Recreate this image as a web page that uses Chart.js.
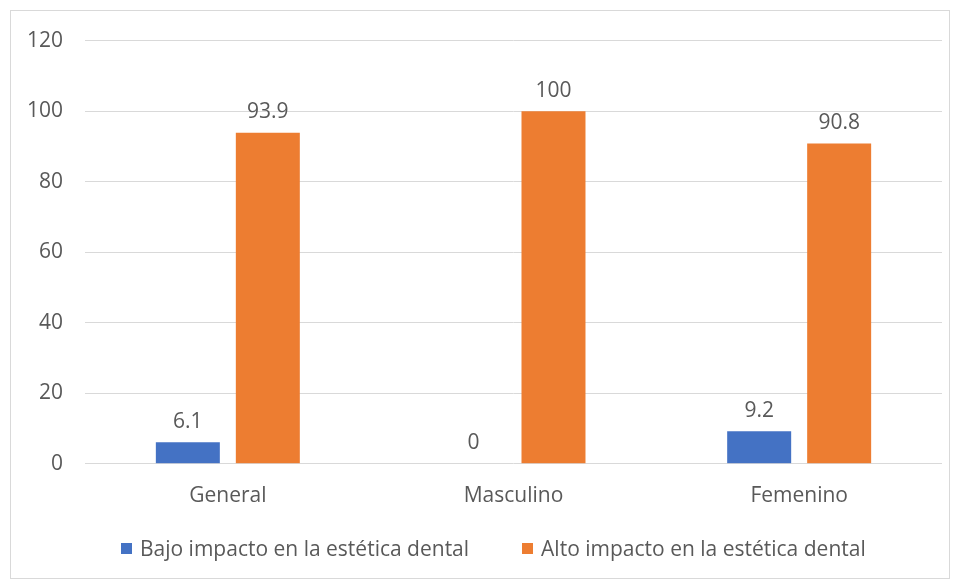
<!DOCTYPE html>
<html>
<head>
<meta charset="utf-8">
<script src="https://cdn.jsdelivr.net/npm/chart.js@4"></script>
<style>
  body { margin: 0; background: #fff; }
  #box {
    position: absolute; left: 10px; top: 10px;
    width: 938px; height: 567px;
    border: 1px solid #d9d9d9; background: #fff;
  }
  #wrap { position: absolute; left: 0; top: -5px; width: 938px; height: 536px; }
  #legend {
    position: absolute; left: 110px; top: 527px;
    display: flex; align-items: center;
    font: 21px 'Open Sans', sans-serif; line-height: 21px; color: #595959;
    white-space: nowrap;
  }
  #legend .item { display: flex; align-items: center; margin-right: 53px; }
  #legend .sq { width: 11px; height: 11px; margin-right: 8px; }
</style>
</head>
<body>
<div id="box">
  <div id="wrap"><canvas id="chart"></canvas></div>
  <div id="legend"></div>
</div>
<script>
const categories = ["General", "Masculino", "Femenino"];
const seriesNames = ["Bajo impacto en la estética dental", "Alto impacto en la estética dental"];
const bajo = [6.1, 0, 9.2];
const alto = [93.9, 100, 90.8];
const yTicks = [0, 20, 40, 60, 80, 100, 120];
const colors = ["#4472C4", "#ED7D31"];

const FONT = "'Open Sans', sans-serif";
const GREY = "#595959";
const SIZE = 21;

// etiquetas de datos encima de cada barra
const barLabels = {
    id: "barLabels",
    afterDatasetsDraw(chart) {
        const ctx = chart.ctx;
        ctx.save();
        ctx.font = SIZE + "px " + FONT;
        ctx.fillStyle = GREY;
        ctx.textAlign = "center";
        ctx.textBaseline = "bottom";
        chart.data.datasets.forEach((ds, i) => {
            chart.getDatasetMeta(i).data.forEach((bar, j) => {
                ctx.fillText(String(ds.data[j]), bar.x, bar.y - 10);
            });
        });
        ctx.restore();
    }
};

// leyenda en HTML debajo del grafico
const htmlLegend = {
    id: "htmlLegend",
    afterUpdate(chart) {
        const box = document.getElementById("legend");
        box.innerHTML = "";
        chart.data.datasets.forEach(ds => {
            const item = document.createElement("div");
            item.className = "item";
            const sq = document.createElement("span");
            sq.className = "sq";
            sq.style.background = ds.backgroundColor;
            const txt = document.createElement("span");
            txt.textContent = ds.label;
            item.appendChild(sq);
            item.appendChild(txt);
            box.appendChild(item);
        });
    }
};

new Chart(document.getElementById("chart"), {
    type: "bar",
    data: {
        labels: categories,
        datasets: [
            { label: seriesNames[0], data: bajo, backgroundColor: colors[0] },
            { label: seriesNames[1], data: alto, backgroundColor: colors[1] }
        ]
    },
    options: {
        responsive: true,
        maintainAspectRatio: false,
        animation: false,
        layout: { padding: { top: 9, right: 7, left: 0, bottom: 21 } },
        datasets: { bar: { categoryPercentage: 0.56, barPercentage: 0.8 } },
        scales: {
            x: {
                grid: { display: false },
                border: { display: false },
                ticks: { color: GREY, font: { family: FONT, size: SIZE }, padding: 12 }
            },
            y: {
                min: 0, max: 120,
                afterFit(scale) { scale.width = 74; },
                afterBuildTicks(scale) { scale.ticks = yTicks.map(v => ({ value: v })); },
                grid: { color: "#d9d9d9", drawTicks: false },
                border: { display: false },
                ticks: { color: GREY, font: { family: FONT, size: SIZE }, padding: 22 }
            }
        },
        plugins: {
            tooltip: { enabled: false },
            legend: { display: false }
        }
    },
    plugins: [barLabels, htmlLegend]
});
</script>
</body>
</html>
